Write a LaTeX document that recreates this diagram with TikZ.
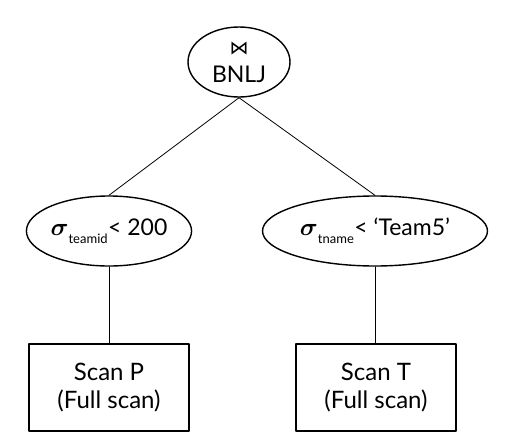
\documentclass[tikz,border=0pt]{standalone}
\usepackage{amsmath}
\usepackage{fontspec}
\setmainfont{Lato}
\newfontfamily\symfont{DejaVu Sans}
\usetikzlibrary{shapes.geometric}
\begin{document}
\begin{tikzpicture}[x=1pt,y=-1pt,line join=round,line cap=round,
  op/.style={draw,ellipse,line width=1.4pt,inner sep=0pt,minimum height=70pt,font=\fontsize{23}{28}\selectfont,align=center},
  scanbox/.style={draw,line width=1.4pt,minimum width=160pt,minimum height=87pt,align=center,font=\fontsize{24}{28}\selectfont}]
\def\sub#1{\raisebox{-4pt}{\fontsize{13}{13}\selectfont #1}}
\useasboundingbox (0,0) rectangle (512,445);
\node[op,minimum width=102pt] (bnlj) at (239,62) {{\symfont\fontsize{19}{19}\selectfont ⋈}\\BNLJ};
\node[op,minimum width=161pt] (selp) at (109,231) {$\boldsymbol{\sigma}_{\sub{teamid}}$< 200};
\node[op,minimum width=225pt] (selt) at (375,231) {$\boldsymbol{\sigma}_{\sub{tname}}$< ‘Team5’};
\node[scanbox] (scanp) at (109,387.5) {Scan P\\(Full scan)};
\node[scanbox] (scant) at (376,387.5) {Scan T\\(Full scan)};
\draw[line width=.8pt] (bnlj.south)--(selp.north);
\draw[line width=.8pt] (bnlj.south)--(selt.north);
\draw[line width=.8pt] (selp.south)--(scanp.north);
\draw[line width=.8pt] (selt.south)--(selt.south|-scant.north);
\end{tikzpicture}
\end{document}
